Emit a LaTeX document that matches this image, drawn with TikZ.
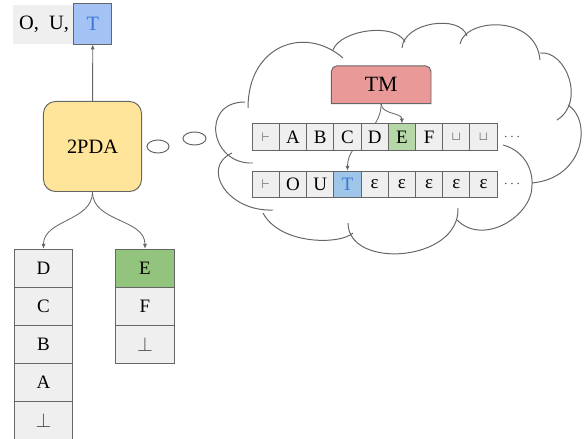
\documentclass[tikz,border=0pt]{standalone}
\usepackage{fontspec}
\setmainfont{Liberation Serif}
\usetikzlibrary{arrows.meta}
\pgfdeclarelayer{background}
\pgfsetlayers{background,main}

\definecolor{linegray}{HTML}{666666}
\definecolor{symgray}{HTML}{444444}
\definecolor{cellgray}{HTML}{EFEFEF}
\definecolor{pdayellow}{HTML}{FFE599}
\definecolor{tmred}{HTML}{EA9999}
\definecolor{tapegreen}{HTML}{B6D7A8}
\definecolor{stackgreen}{HTML}{93C47D}
\definecolor{boxblue}{HTML}{A4C2F4}
\definecolor{tapeblue}{HTML}{9FC5E8}
\definecolor{tblue}{HTML}{3C78D8}

\newcommand{\tapestart}{{\fontsize{9}{9}\selectfont\color{symgray}$\vdash$}}
\newcommand{\tapeblank}{{\fontsize{9}{9}\selectfont\color{symgray}$\sqcup$}}
\newcommand{\stackbot}{{\color{symgray}$\bot$}}

\tikzset{
  cell/.style={draw=linegray, line width=0.7pt, fill=cellgray, minimum width=0.68cm,
    minimum height=0.65cm, inner sep=0pt, font=\fontsize{13.5}{16}\selectfont},
  stackcell/.style={cell, minimum width=1.46cm, minimum height=0.95cm},
  link/.style={draw=linegray, line width=0.6pt, -{Latex[length=3.5pt,width=3pt]}},
  puff/.style={draw=linegray, line width=0.7pt},
}

\begin{document}
\begin{tikzpicture}[x=0.025cm, y=0.025cm]
    \useasboundingbox (0,0) rectangle (584,439);

    % Output written so far
    \node[fill=cellgray, minimum width=1.525cm, minimum height=0.975cm, inner sep=0pt,
        font=\fontsize{14.5}{17}\selectfont] (written) at (44,414.5) {O,\hspace{0.5em}U,};
    \node[cell, fill=boxblue, minimum width=0.94cm, minimum height=1cm,
        font=\fontsize{14.5}{17}\selectfont] (top) at (92.75,415) {\textcolor{tblue}{T}};

    % The 2PDA
    \node[draw=linegray, line width=0.7pt, fill=pdayellow, rounded corners=0.3cm,
        minimum width=2.45cm, minimum height=2.25cm,
        font=\fontsize{14.5}{17}\selectfont] (pda) at (92.5,292.5) {2PDA};
    \draw[link] (pda) -- (top);

    % Stacks
    \foreach \s [count=\i] in {D,C,B,A,\stackbot}
        \node[stackcell] (left\i) at (43.5,208.7-38*\i) {\s};
    \foreach \s/\f [count=\i] in {E/stackgreen, F/cellgray, \stackbot/cellgray}
        \node[stackcell, fill=\f] (right\i) at (145,208.7-38*\i) {\s};

    \draw[link] (pda.south) to[out=-90,in=90] (left1.north);
    \draw[link] (pda.south) to[out=-90,in=90] (right1.north);

    % Thought bubbles
    \draw[puff] (158,292.5) ellipse (11 and 6.5);
    \draw[puff] (194.5,300.5) ellipse (11.5 and 6.5);

    % Cloud
    \draw[puff] (248,331) .. controls (248,394) and (305,414) .. (343,381);
    \draw[puff] (333,389) .. controls (340,409) and (395,417) .. (405,397);
    \draw[puff] (402,391) .. controls (404,417) and (460,425) .. (467,403);
    \draw[puff] (460,395) .. controls (465,421) and (536,425) .. (540,379);
    \draw[puff] (540,386) .. controls (566,389) and (586,337) .. (557,319);
    \draw[puff] (568,334) .. controls (592,319) and (585,261) .. (532,256);
    \draw[puff] (503,294) .. controls (522,289) and (533,272) .. (532,254)
        .. controls (533,224) and (484,192) .. (457,219);
    \draw[puff] (458,231) .. controls (460,177) and (348,169) .. (348,216);
    \draw[puff] (353,206) .. controls (340,194) and (280,194) .. (263,226);
    \draw[puff] (273,229) .. controls (228,227) and (200,271) .. (232,286);
    \draw[puff] (253,276) .. controls (210,274) and (200,337) .. (245,337);

    % The TM and its tapes
    \node[minimum width=2.475cm, minimum height=0.93cm,
        font=\fontsize{15.5}{18}\selectfont] (tm) at (381.2,354.3) {TM};
    \foreach \s/\f [count=\i] in {\tapestart/cellgray, A/cellgray, B/cellgray,
        C/cellgray, D/cellgray, E/tapegreen, F/cellgray, \tapeblank/cellgray, \tapeblank/cellgray}
        \node[cell, fill=\f] (rd\i) at (238.7+27.2*\i,302) {\s};
    \foreach \s/\f [count=\i] in {\tapestart/cellgray, O/cellgray, U/cellgray,
        \textcolor{tblue}{T}/tapeblue, ε/cellgray, ε/cellgray, ε/cellgray, ε/cellgray, ε/cellgray}
        \node[cell, fill=\f] (wr\i) at (238.7+27.2*\i,254.8) {\s};
    \node[text=symgray] (dots1) at (512,302) {$\cdots$};
    \node[text=symgray] (dots2) at (512,254.8) {$\cdots$};

    \draw[link] (tm.south) to[out=-90,in=90] (rd6.north);

    \begin{pgfonlayer}{background}
        \draw[draw=linegray, line width=0.7pt, fill=tmred] (tm.south west)
            -- ([yshift=-4pt]tm.north west) arc[start angle=180, end angle=90, radius=4pt]
            -- ([xshift=-4pt]tm.north east) arc[start angle=90, end angle=0, radius=4pt]
            -- (tm.south east) -- cycle;
        \draw[link] (tm.south) to[out=-90,in=90] (wr4.north);
    \end{pgfonlayer}
\end{tikzpicture}
\end{document}
